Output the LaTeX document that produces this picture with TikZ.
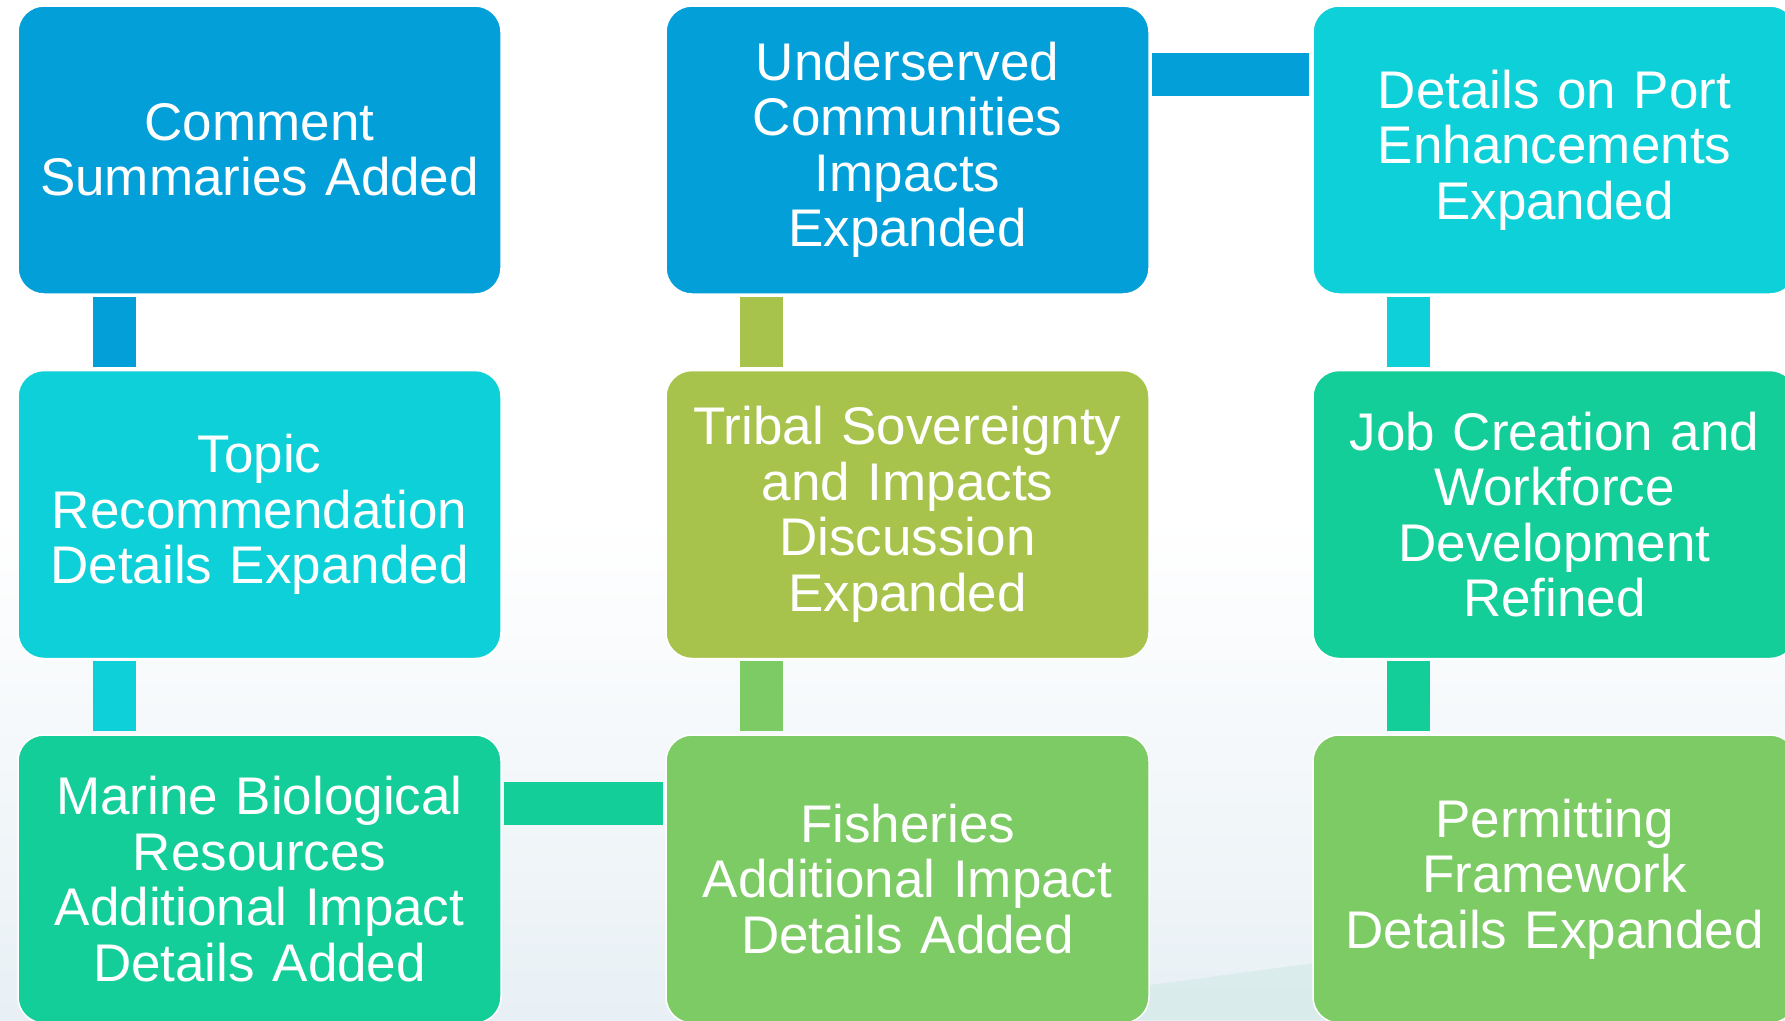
\documentclass[tikz,border=0pt]{standalone}
\usepackage{fontspec}
\setmainfont{Liberation Sans}
\definecolor{cblue}{HTML}{039FD8}
\definecolor{ccyan}{HTML}{0ED0D8}
\definecolor{cteal}{HTML}{13CE98}
\definecolor{cgreen}{HTML}{7DCB64}
\definecolor{colive}{HTML}{A7C34B}
\definecolor{bgbot}{HTML}{E8F0F5}
\definecolor{bgteal}{HTML}{D6EBE9}
\tikzset{
  stepbox/.style={draw=white, line width=1.5pt, rounded corners=26pt,
    minimum width=483pt, minimum height=288pt, inner sep=0pt,
    text width=470pt, align=center, text=white,
    font=\fontsize{53}{55.5}\selectfont},
  link/.style={line width=43pt, line cap=butt}
}
\begin{document}
\begin{tikzpicture}[x=1pt,y=-1pt]
\useasboundingbox (0,0) rectangle (1785,1020);
\fill[white] (0,0) rectangle (1785,1020);
\shade[top color=white, bottom color=bgbot] (0,520) rectangle (1785,1020);
\fill[bgteal, opacity=0.8] (1000,1020) -- (1150,985) -- (1785,900) -- (1785,1020) -- cycle;
% boxes
\node[stepbox, fill=cblue]  (comment) at (259.5,150)   {Comment\\Summaries Added};
\node[stepbox, fill=ccyan]  (topic)   at (259.5,514.5) {Topic\\Recommendation\\Details Expanded};
\node[stepbox, fill=cteal]  (marine)  at (259.5,879)   {Marine Biological\\Resources\\Additional Impact\\Details Added};
\node[stepbox, fill=cgreen] (fish)    at (907.5,879)   {Fisheries\\Additional Impact\\Details Added};
\node[stepbox, fill=colive] (tribal)  at (907.5,514.5) {Tribal Sovereignty\\and Impacts\\Discussion\\Expanded};
\node[stepbox, fill=cblue]  (under)   at (907.5,150)   {Underserved\\Communities\\Impacts\\Expanded};
\node[stepbox, fill=ccyan]  (port)    at (1554.5,150)  {Details on Port\\Enhancements\\Expanded};
\node[stepbox, fill=cteal]  (job)     at (1554.5,514.5){Job Creation and\\Workforce\\Development\\Refined};
\node[stepbox, fill=cgreen] (permit)  at (1554.5,879)  {Permitting\\Framework\\Details Expanded};
% connectors
\draw[link, cblue, shorten <=2pt, shorten >=3pt]  ([xshift=97pt]comment.south west) -- ([xshift=97pt]topic.north west);
\draw[link, ccyan, shorten <=2pt, shorten >=3pt]  ([xshift=97pt]topic.south west) -- ([xshift=97pt]marine.north west);
\draw[link, cteal, shorten <=2pt, shorten >=2pt]  ([yshift=-69pt]marine.north east) -- ([yshift=-69pt]fish.north west);
\draw[link, cgreen, shorten <=3pt, shorten >=2pt] ([xshift=96pt]fish.north west) -- ([xshift=96pt]tribal.south west);
\draw[link, colive, shorten <=3pt, shorten >=2pt] ([xshift=96pt]tribal.north west) -- ([xshift=96pt]under.south west);
\draw[link, cblue, shorten <=2pt, shorten >=3pt]  ([yshift=-69pt]under.north east) -- ([yshift=-69pt]port.north west);
\draw[link, ccyan, shorten <=2pt, shorten >=3pt]  ([xshift=96pt]port.south west) -- ([xshift=96pt]job.north west);
\draw[link, cteal, shorten <=2pt, shorten >=3pt]  ([xshift=96pt]job.south west) -- ([xshift=96pt]permit.north west);
\end{tikzpicture}
\end{document}
